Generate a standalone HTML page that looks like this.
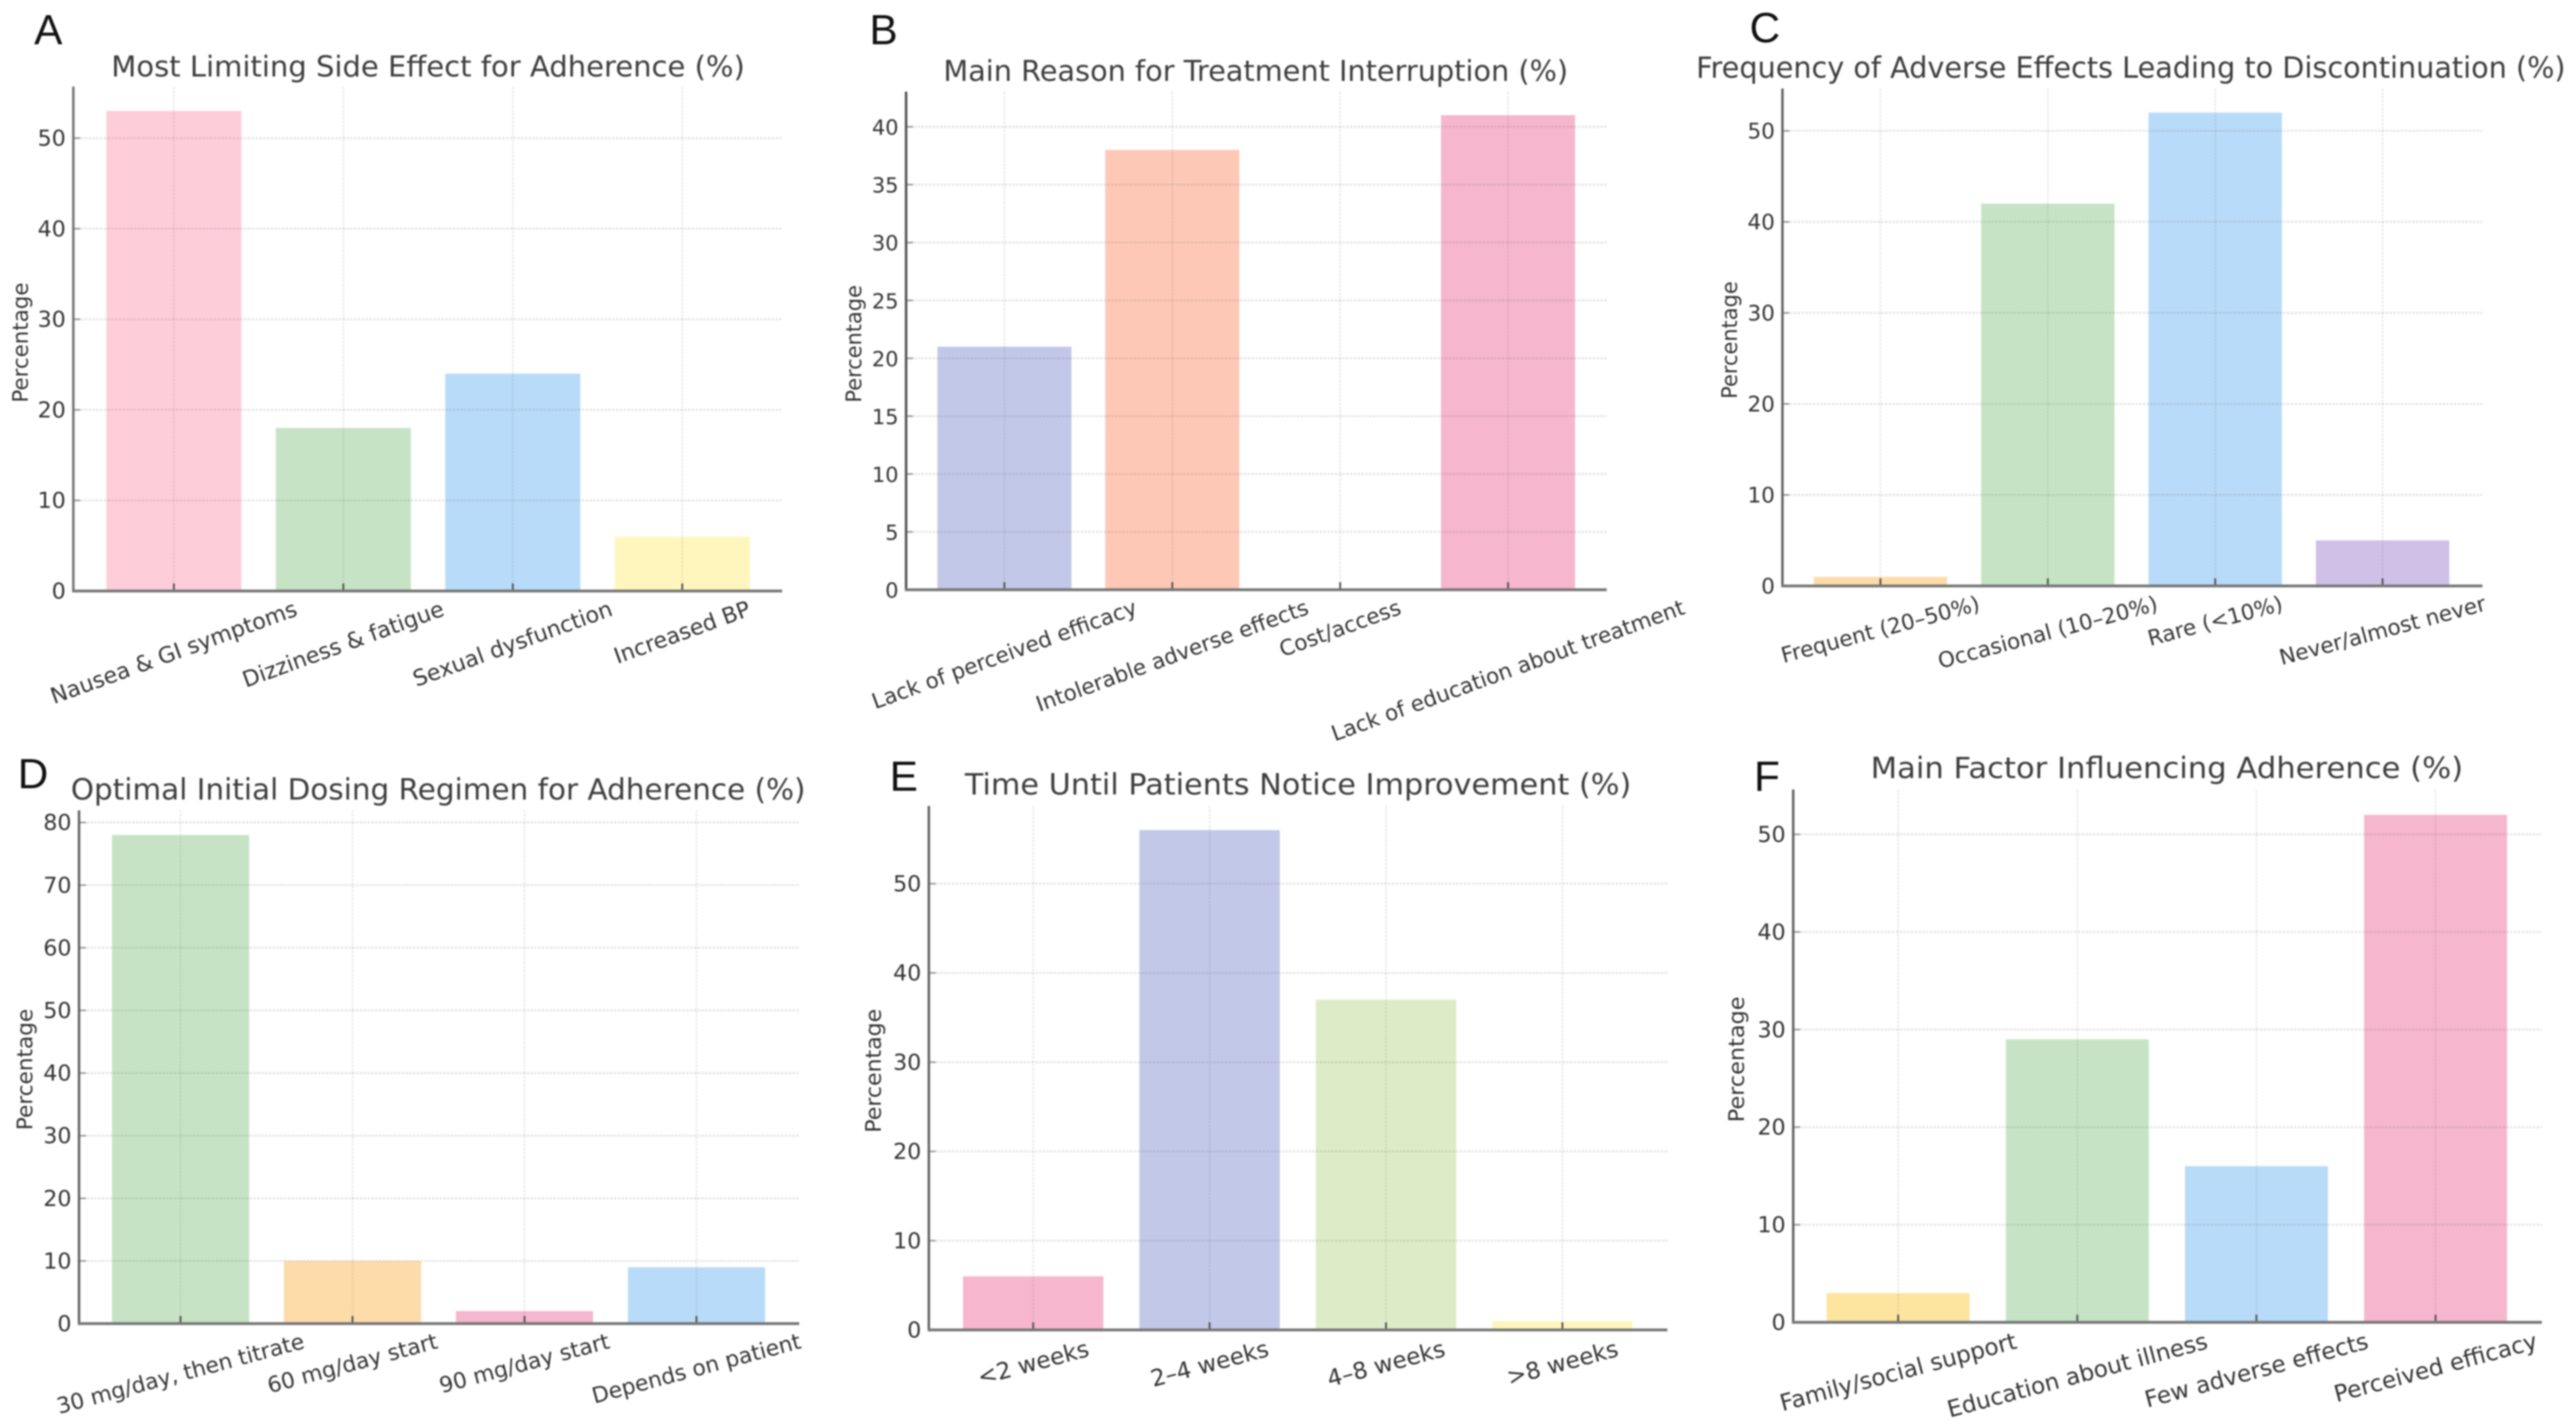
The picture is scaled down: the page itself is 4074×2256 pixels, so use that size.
<!DOCTYPE html>
<html lang="en">
<head>
<meta charset="utf-8">
<title>Six bar chart panels on adherence</title>
<style>
html,body{margin:0;padding:0;background:#fff;}
svg{display:block;filter:blur(1.4px);}
text{font-family:"DejaVu Sans","Liberation Sans",sans-serif;fill:#333;}
.letter{font-family:"Liberation Sans",sans-serif;font-size:67px;fill:#111;}
.title{fill:#3d3d3d;}
</style>
</head>
<body>
<svg id="figure" xmlns="http://www.w3.org/2000/svg" width="4074" height="2256" viewBox="0 0 4074 2256">
  <rect width="4074" height="2256" fill="#ffffff"/>

  <text class="letter" x="54" y="70">A</text>
  <text class="letter" x="1375" y="70">B</text>
  <text class="letter" x="2767" y="67">C</text>
  <text class="letter" x="28" y="1247">D</text>
  <text class="letter" x="1407" y="1251">E</text>
  <text class="letter" x="2774" y="1251">F</text>

  <text class="title" x="677" y="121" font-size="45" text-anchor="middle" textLength="1002" lengthAdjust="spacingAndGlyphs">Most Limiting Side Effect for Adherence (%)</text>
  <text class="title" x="1986" y="128" font-size="45" text-anchor="middle" textLength="988" lengthAdjust="spacingAndGlyphs">Main Reason for Treatment Interruption (%)</text>
  <text class="title" x="3370" y="123" font-size="46" text-anchor="middle" textLength="1375" lengthAdjust="spacingAndGlyphs">Frequency of Adverse Effects Leading to Discontinuation (%)</text>
  <text class="title" x="693" y="1265" font-size="46" text-anchor="middle" textLength="1162" lengthAdjust="spacingAndGlyphs">Optimal Initial Dosing Regimen for Adherence (%)</text>
  <text class="title" x="2053" y="1257" font-size="46" text-anchor="middle" textLength="1054" lengthAdjust="spacingAndGlyphs">Time Until Patients Notice Improvement (%)</text>
  <text class="title" x="3427" y="1231" font-size="46" text-anchor="middle" textLength="937" lengthAdjust="spacingAndGlyphs">Main Factor Influencing Adherence (%)</text>

  <text transform="translate(33,542) rotate(-90)" font-size="34" text-anchor="middle" dominant-baseline="central" textLength="190" lengthAdjust="spacingAndGlyphs">Percentage</text>
  <text transform="translate(1351,544) rotate(-90)" font-size="34" text-anchor="middle" dominant-baseline="central" textLength="186" lengthAdjust="spacingAndGlyphs">Percentage</text>
  <text transform="translate(2736,538) rotate(-90)" font-size="34" text-anchor="middle" dominant-baseline="central" textLength="186" lengthAdjust="spacingAndGlyphs">Percentage</text>
  <text transform="translate(40,1692) rotate(-90)" font-size="34" text-anchor="middle" dominant-baseline="central" textLength="192" lengthAdjust="spacingAndGlyphs">Percentage</text>
  <text transform="translate(1382,1694) rotate(-90)" font-size="34" text-anchor="middle" dominant-baseline="central" textLength="196" lengthAdjust="spacingAndGlyphs">Percentage</text>
  <text transform="translate(2747,1676) rotate(-90)" font-size="34" text-anchor="middle" dominant-baseline="central" textLength="199" lengthAdjust="spacingAndGlyphs">Percentage</text>
</svg>

<script>
// Panel A
const categoriesA = ["Nausea & GI symptoms", "Dizziness & fatigue", "Sexual dysfunction", "Increased BP"];
const valuesA = [53, 18, 24, 6];
const yTicksA = [0, 10, 20, 30, 40, 50];
// Panel B
const categoriesB = ["Lack of perceived efficacy", "Intolerable adverse effects", "Cost/access", "Lack of education about treatment"];
const valuesB = [21, 38, 0, 41];
const yTicksB = [0, 5, 10, 15, 20, 25, 30, 35, 40];
// Panel C
const categoriesC = ["Frequent (20\u201350%)", "Occasional (10\u201320%)", "Rare (<10%)", "Never/almost never"];
const valuesC = [1, 42, 52, 5];
const yTicksC = [0, 10, 20, 30, 40, 50];
// Panel D
const categoriesD = ["30 mg/day, then titrate", "60 mg/day start", "90 mg/day start", "Depends on patient"];
const valuesD = [78, 10, 2, 9];
const yTicksD = [0, 10, 20, 30, 40, 50, 60, 70, 80];
// Panel E
const categoriesE = ["<2 weeks", "2\u20134 weeks", "4\u20138 weeks", ">8 weeks"];
const valuesE = [6, 56, 37, 1];
const yTicksE = [0, 10, 20, 30, 40, 50];
// Panel F
const categoriesF = ["Family/social support", "Education about illness", "Few adverse effects", "Perceived efficacy"];
const valuesF = [3, 29, 16, 52];
const yTicksF = [0, 10, 20, 30, 40, 50];

// Bar fills per panel
const pink = "#fecdda", green = "#c6e4c5", blue = "#b8dbf9", yellow = "#fff6bd",
      lavender = "#c2c8e8", peach = "#fec8b6", rose = "#f6b6cd", orange = "#fddcaa",
      purple = "#cfc0e8", lime = "#ddecc6", gold = "#fde49f";

const panels = [
  {id:"a", categories:categoriesA, values:valuesA, yTicks:yTicksA, fills:[pink, green, blue, yellow],
   x0:116, x1:1237, y0:935, yTop:137, pxPerUnit:14.33, first:275, step:268, barW:213.5, rot:20, tickFs:35, labelFs:35, axisColor:"#777"},
  {id:"b", categories:categoriesB, values:valuesB, yTicks:yTicksB, fills:[lavender, peach, lime, rose],
   x0:1433, x1:2541, y0:933, yTop:145, pxPerUnit:18.31, first:1588.5, step:265.5, barW:212, rot:20, tickFs:33, labelFs:34, axisColor:"#555"},
  {id:"c", categories:categoriesC, values:valuesC, yTicks:yTicksC, fills:[orange, green, blue, purple],
   x0:2819, x1:3926, y0:927, yTop:140, pxPerUnit:14.4, first:2974, step:264.7, barW:211, rot:15, tickFs:34, labelFs:34, axisColor:"#666"},
  {id:"d", categories:categoriesD, values:valuesD, yTicks:yTicksD, fills:[green, orange, rose, blue],
   x0:125, x1:1264, y0:2094, yTop:1282, pxPerUnit:9.91, first:285.5, step:272, barW:217, rot:15, tickFs:35, labelFs:34.5, axisColor:"#666"},
  {id:"e", categories:categoriesE, values:valuesE, yTicks:yTicksE, fills:[rose, lavender, lime, yellow],
   x0:1469, x1:2637, y0:2104, yTop:1275, pxPerUnit:14.12, first:1634, step:279, barW:222, rot:15, tickFs:35, labelFs:36.5, axisColor:"#666"},
  {id:"f", categories:categoriesF, values:valuesF, yTicks:yTicksF, fills:[gold, green, blue, rose],
   x0:2836, x1:4020, y0:2092, yTop:1249, pxPerUnit:15.44, first:3002, step:283.3, barW:226, rot:15, tickFs:35, labelFs:36.5, axisColor:"#666"}
];

const NS = "http://www.w3.org/2000/svg";
const svg = document.getElementById("figure");

function xScale(p, i) { return p.first + i * p.step; }
function yScale(p, v) { return p.y0 - v * p.pxPerUnit; }

function drawPanel(p) {
  // bars
  p.values.forEach(function (v, i) {
    const bar = document.createElementNS(NS, "rect");
    
    
    bar.setAttribute("x", xScale(p, i) - p.barW / 2);
    bar.setAttribute("y", yScale(p, v));
    bar.setAttribute("width", p.barW);
    bar.setAttribute("height", p.y0 - yScale(p, v));
    bar.setAttribute("fill", p.fills[i]);
    svg.appendChild(bar);
  });

  // horizontal gridlines, y ticks and y tick labels
  p.yTicks.forEach(function (t) {
    const y = yScale(p, t);
    if (t !== 0) {
      const grid = document.createElementNS(NS, "line");
      
      
      grid.setAttribute("x1", p.x0);
      grid.setAttribute("x2", p.x1);
      grid.setAttribute("y1", y);
      grid.setAttribute("y2", y);
      grid.setAttribute("stroke", "rgba(110,110,110,0.19)");
      grid.setAttribute("stroke-width", "3");
      grid.setAttribute("stroke-dasharray", "4 2");
      svg.appendChild(grid);

      const tick = document.createElementNS(NS, "line");
      
      
      tick.setAttribute("x1", p.x0);
      tick.setAttribute("x2", p.x0 + 11);
      tick.setAttribute("y1", y);
      tick.setAttribute("y2", y);
      tick.setAttribute("stroke", "#999");
      tick.setAttribute("stroke-width", "2.5");
      svg.appendChild(tick);
    }
    const label = document.createElementNS(NS, "text");
    
    
    label.setAttribute("x", p.x0 - 12);
    label.setAttribute("y", y + 1);
    label.setAttribute("font-size", p.tickFs);
    label.setAttribute("text-anchor", "end");
    label.setAttribute("dominant-baseline", "central");
    label.textContent = t;
    svg.appendChild(label);
  });

  // vertical gridlines, x ticks and x labels
  p.categories.forEach(function (c, i) {
    const x = xScale(p, i);
    const grid = document.createElementNS(NS, "line");
    
    
    grid.setAttribute("x1", x);
    grid.setAttribute("x2", x);
    grid.setAttribute("y1", p.yTop);
    grid.setAttribute("y2", p.y0);
    grid.setAttribute("stroke", "rgba(110,110,110,0.15)");
    grid.setAttribute("stroke-width", "2.5");
    grid.setAttribute("stroke-dasharray", "4 2");
    svg.appendChild(grid);

    const tick = document.createElementNS(NS, "line");
    
    
    tick.setAttribute("x1", x);
    tick.setAttribute("x2", x);
    tick.setAttribute("y1", p.y0 - 12);
    tick.setAttribute("y2", p.y0);
    tick.setAttribute("stroke", "#555");
    tick.setAttribute("stroke-width", "3");
    svg.appendChild(tick);

    const label = document.createElementNS(NS, "text");
    
    
    label.setAttribute("font-size", p.labelFs);
    label.setAttribute("text-anchor", "middle");
    label.setAttribute("dominant-baseline", "central");
    label.textContent = c;
    svg.appendChild(label);
    const w = label.getComputedTextLength();
    const rad = p.rot * Math.PI / 180;
    const boxH = w * Math.sin(rad) + p.labelFs * 0.95 * Math.cos(rad);
    const cy = p.y0 + 12 + boxH / 2;
    label.setAttribute("transform", "translate(" + x + "," + cy + ") rotate(" + (-p.rot) + ")");
  });

  // axis lines
  const yAxis = document.createElementNS(NS, "line");
  
  
  yAxis.setAttribute("x1", p.x0);
  yAxis.setAttribute("x2", p.x0);
  yAxis.setAttribute("y1", p.yTop);
  yAxis.setAttribute("y2", p.y0 + 2);
  yAxis.setAttribute("stroke", p.axisColor);
  yAxis.setAttribute("stroke-width", "4");
  svg.appendChild(yAxis);

  const xAxis = document.createElementNS(NS, "line");
  
  
  xAxis.setAttribute("x1", p.x0 - 2);
  xAxis.setAttribute("x2", p.x1);
  xAxis.setAttribute("y1", p.y0);
  xAxis.setAttribute("y2", p.y0);
  xAxis.setAttribute("stroke", "#777");
  xAxis.setAttribute("stroke-width", "4.5");
  svg.appendChild(xAxis);
}

panels.forEach(drawPanel);
</script>
</body>
</html>
